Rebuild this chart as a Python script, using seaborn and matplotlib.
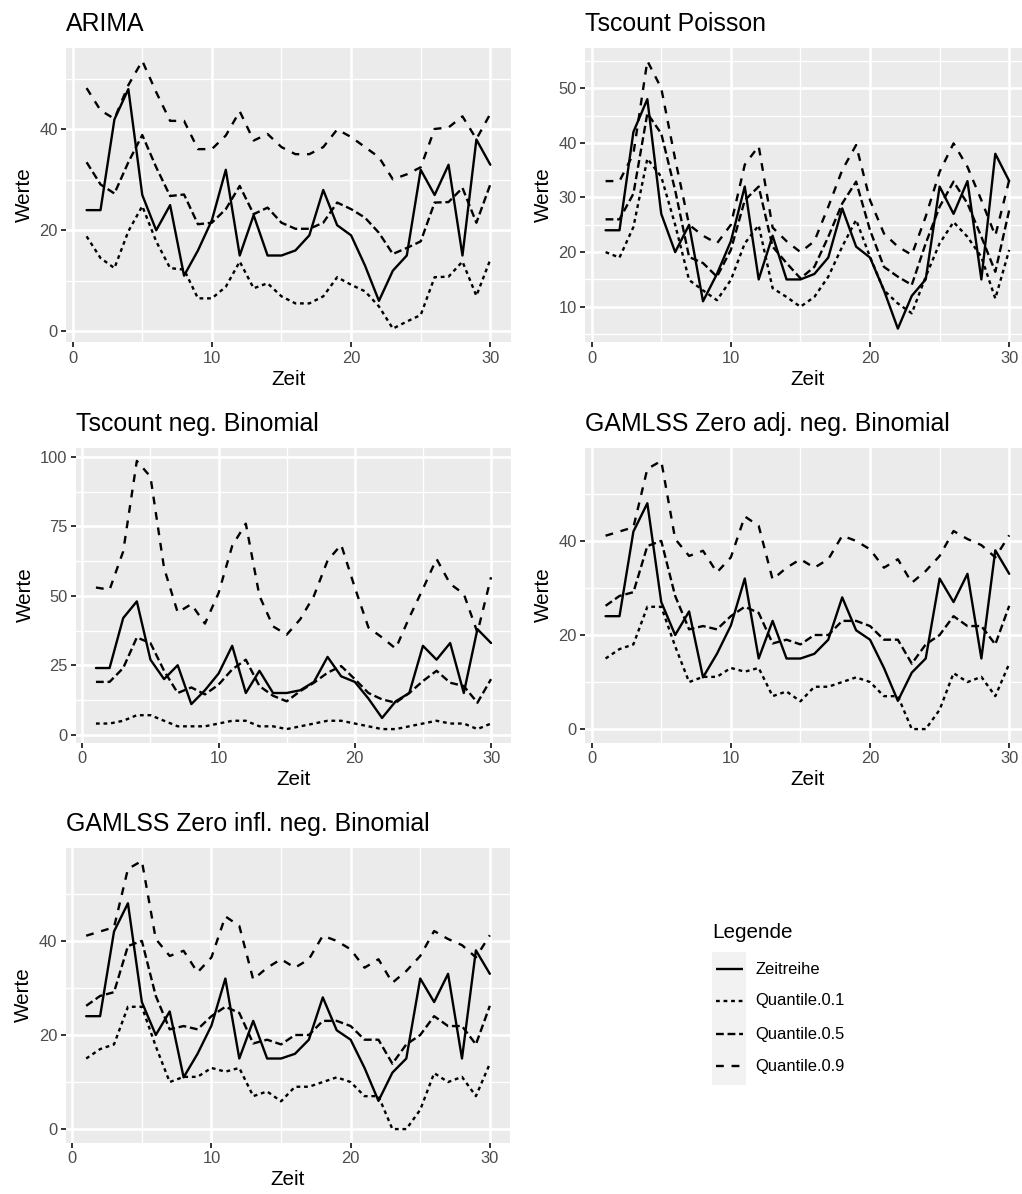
import numpy as np
import pandas as pd
import matplotlib
matplotlib.use("Agg")
import matplotlib.pyplot as plt
from matplotlib.ticker import MultipleLocator, AutoMinorLocator
from matplotlib.patches import Rectangle
import seaborn as sns

# ---- data -------------------------------------------------------------
zeit = list(range(1, 31))

zeitreihe = [24, 24, 42, 48, 27, 20, 25, 11, 16, 22, 32, 15, 23, 15, 15,
             16, 19, 28, 21, 19, 13, 6, 12, 15, 32, 27, 33, 15, 38, 33]

arima_q01 = [18.8, 14.5, 12.5, 19.8, 24.8, 17.8, 12.5, 12.2, 6.5, 6.5, 8.8, 13.8, 8.5, 9.5, 6.9,
             5.5, 5.5, 6.9, 10.7, 9.2, 7.9, 4.9, 0.5, 1.9, 3.2, 10.7, 10.8, 13.8, 7.0, 14.2]
arima_q05 = [33.5, 29.1, 27.3, 33.5, 38.9, 32.5, 26.8, 27.1, 21.2, 21.5, 24.2, 28.8, 23.2, 24.5, 21.5,
             20.3, 20.3, 21.5, 25.5, 24.2, 22.5, 19.5, 15.3, 16.5, 17.8, 25.5, 25.6, 28.4, 21.5, 29.1]
arima_q09 = [48.2, 43.8, 42.1, 48.8, 53.6, 47.4, 41.7, 41.7, 36.1, 36.1, 38.8, 43.6, 37.8, 39.1, 36.5,
             35.1, 35.1, 36.5, 40.0, 38.5, 36.5, 34.5, 30.1, 31.1, 32.5, 40.1, 40.4, 42.6, 38.1, 43.1]

pois_q01 = [20, 19, 24.6, 37.1, 33.8, 25, 14.9, 13, 11.2, 14.9, 21.6, 24.9, 13.4, 11.8, 10,
            11.8, 15.5, 21, 25.9, 19.1, 13, 10.6, 8.8, 15.5, 21.6, 25.5, 22.8, 19.1, 11.5, 20.4]
pois_q05 = [26, 26, 30.7, 45.4, 41.7, 31.3, 19.1, 18, 15.5, 20.4, 29.5, 32, 21, 18, 15.2,
            17.3, 22.8, 28.9, 32.9, 24, 17.3, 15.5, 14, 21.6, 28.3, 32.9, 28.9, 22.8, 16.4, 27.7]
pois_q09 = [33, 33, 38, 55, 50, 37, 25, 23, 21.6, 25, 36, 39.4, 24.5, 22, 20,
            22, 28.3, 35, 39.6, 29.5, 23.4, 21, 19.5, 26.5, 34.7, 39.9, 35.6, 29.5, 23, 33.2]

nb_q01 = [4, 4, 5, 7, 7, 5, 3, 3, 3, 4, 5, 5, 3, 3, 2,
          3, 4, 5, 5, 4, 3, 2, 2, 3, 4, 5, 4, 4, 2, 4]
nb_q05 = [19, 19, 24, 35, 33, 23, 15, 17, 14.5, 18, 23.5, 27, 17.5, 14, 12,
          15.7, 18.7, 22.3, 24.7, 20, 15, 12.7, 11.5, 15, 19.3, 23, 18.7, 17.5, 11.5, 20]
nb_q09 = [53, 52.2, 66, 98.6, 92.9, 60, 44, 47, 40, 51, 68, 76, 50, 39, 36,
          41.6, 50, 62.7, 68.4, 53, 38.6, 35, 31, 42.2, 52.5, 63.3, 54.3, 50.7, 36.8, 56.7]

gamlss_q01 = [15, 17, 18, 26, 26, 17.6, 10, 11.1, 11.1, 13, 12.2, 13, 7, 8, 5.9,
              9, 9, 10, 11, 10, 7, 7, 0, 0, 4.1, 11.9, 10, 11.1, 7, 13.9]
gamlss_q05 = [26.2, 28.3, 29.1, 38.9, 40, 28.3, 21.2, 21.9, 21.2, 24, 26, 24.7, 18.2, 19, 18,
              20, 20, 23, 23, 21.9, 19, 19, 13.9, 18, 20, 24, 21.9, 21.9, 18, 26.2]
gamlss_q09 = [41.1, 42, 42.9, 55.3, 57, 40.4, 36.8, 37.9, 33.3, 36.5, 45.2, 43.2, 31.8, 34.3, 36.1,
              34.3, 36.1, 41.1, 40, 38.2, 34.3, 36.1, 31.1, 33.6, 36.8, 42.1, 40.4, 39.1, 36.5, 41.2]

series_names = ["Zeitreihe", "Quantile.0.1", "Quantile.0.5", "Quantile.0.9"]

panels = [
    ("ARIMA", arima_q01, arima_q05, arima_q09, 20),
    ("Tscount Poisson", pois_q01, pois_q05, pois_q09, 10),
    ("Tscount neg. Binomial", nb_q01, nb_q05, nb_q09, 25),
    ("GAMLSS Zero adj. neg. Binomial", gamlss_q01, gamlss_q05, gamlss_q09, 20),
    ("GAMLSS Zero infl. neg. Binomial", gamlss_q01, gamlss_q05, gamlss_q09, 20),
]

# ---- styling ----------------------------------------------------------
sns.set_theme(style="white")
plt.rcParams["font.family"] = ["Liberation Sans", "DejaVu Sans"]

LW = 1.7
dash_map = {
    "Zeitreihe": "",
    "Quantile.0.1": (1.6, 1.6),
    "Quantile.0.5": (3.3, 1.6),
    "Quantile.0.9": (3.3, 3.3),
}

W, H = 1022, 1194
fig = plt.figure(figsize=(W / 100, H / 100), dpi=100)
fig.patch.set_facecolor("white")


def px_axes(left, top, right, bottom):
    return fig.add_axes([left / W, 1 - bottom / H, (right - left) / W, (bottom - top) / H])


# panel rectangles in pixels: left, top, right, bottom
boxes = [
    (66.4, 47.5, 510.5, 342.0),
    (585.4, 47.5, 1029.4, 342.0),
    (76.2, 447.5, 510.8, 742.5),
    (585.4, 447.5, 1029.4, 742.5),
    (66.0, 847.5, 510.0, 1142.5),
]

for (title, q01, q05, q09, ystep), box in zip(panels, boxes):
    ax = px_axes(*box)
    df = pd.DataFrame({
        "Zeit": zeit * 4,
        "Werte": zeitreihe + list(q01) + list(q05) + list(q09),
        "Reihe": np.repeat(series_names, len(zeit)),
    })
    sns.lineplot(data=df, x="Zeit", y="Werte", style="Reihe", style_order=series_names,
                 dashes=dash_map, color="black", linewidth=LW, legend=False, ax=ax)
    ax.margins(x=0.05, y=0.05)
    ax.set_facecolor("#EBEBEB")
    for s in ax.spines.values():
        s.set_visible(False)
    ax.xaxis.set_major_locator(MultipleLocator(10))
    ax.xaxis.set_minor_locator(AutoMinorLocator(2))
    ax.yaxis.set_major_locator(MultipleLocator(ystep))
    ax.yaxis.set_minor_locator(AutoMinorLocator(2))
    ax.grid(which="major", color="white", linewidth=1.9)
    ax.grid(which="minor", color="white", linewidth=0.95)
    ax.set_axisbelow(True)
    ax.tick_params(which="major", length=3.7, width=1.4, color="#333333",
                   labelsize=11.9, labelcolor="#4D4D4D", pad=2.6,
                   bottom=True, left=True)
    ax.tick_params(which="minor", length=0)
    ax.set_xlabel("Zeit", fontsize=14.9, color="black", labelpad=3)
    ax.set_ylabel("Werte", fontsize=14.9, color="black", labelpad=4)
    # panel title, 16.5 px above the panel, aligned with its left edge
    ax.text(0, 1 + 16.5 / (box[3] - box[1]), title, transform=ax.transAxes,
            fontsize=17.9, color="black", ha="left", va="baseline")

# ---- legend -----------------------------------------------------------
lg = fig.add_axes([0, 0, 1, 1])
lg.set_xlim(0, W)
lg.set_ylim(H, 0)
lg.axis("off")
lg.patch.set_alpha(0)
lg.text(712, 933, "Legende", fontsize=14.9, color="black", ha="left", va="center")
lg.add_patch(Rectangle((712, 952), 34, 133, facecolor="#F2F2F2", edgecolor="none"))
key_y = [969, 1001, 1034, 1066]
for name, ky in zip(series_names, key_y):
    d = dash_map[name]
    ln, = lg.plot([715.5, 742.5], [ky, ky], color="black", linewidth=LW,
                  solid_capstyle="butt", dash_capstyle="butt")
    if d:
        ln.set_dashes(d)
    lg.text(755, ky, name, fontsize=11.9, color="black", ha="left", va="center")

fig.savefig("out.png", dpi=100)
